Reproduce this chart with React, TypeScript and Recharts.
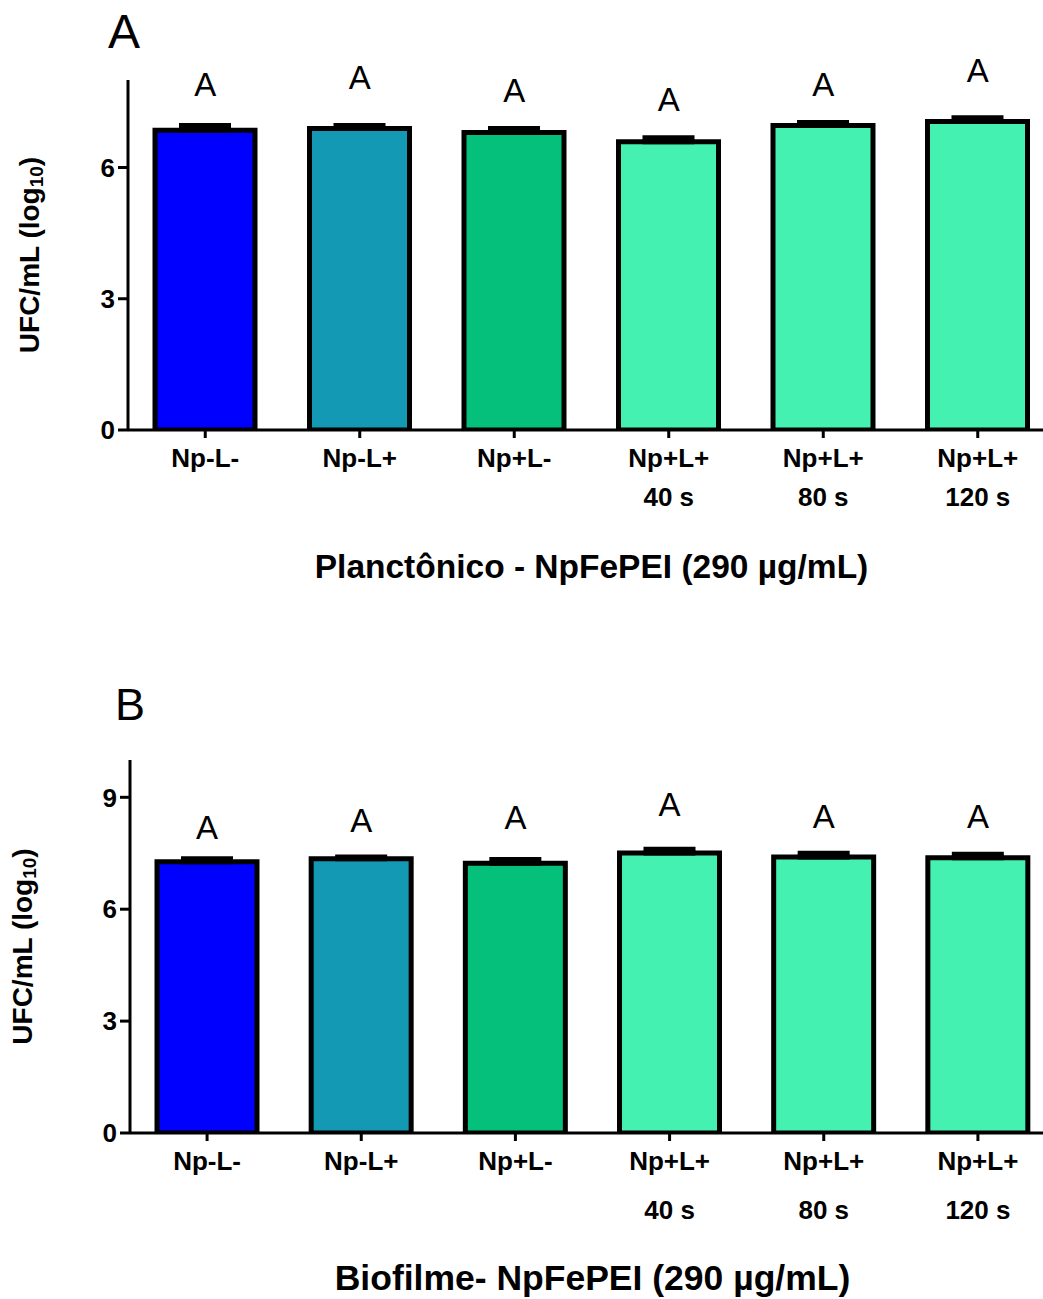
import { BarChart, Bar, Cell, XAxis, YAxis, ErrorBar, ReferenceDot } from 'recharts';

// Treatment groups (two-line tick labels split on "\n")
const categories = ['Np-L-', 'Np-L+', 'Np+L-', 'Np+L+\n40 s', 'Np+L+\n80 s', 'Np+L+\n120 s'];
const barColors = ['#0000ff', '#1399b4', '#05c07a', '#44f1b1', '#44f1b1', '#44f1b1'];

// Planktonic counts, log10 UFC/mL
const planktonicMean = [6.85, 6.89, 6.8, 6.59, 6.96, 7.05];
const planktonicSd = [0.11, 0.07, 0.09, 0.09, 0.07, 0.09];
const planktonicLetters = ['A', 'A', 'A', 'A', 'A', 'A'];
const planktonicLetterAt = [7.64, 7.8, 7.5, 7.3, 7.63, 7.95];
const planktonicTicks = [0, 3, 6];

// Biofilm counts, log10 UFC/mL
const biofilmMean = [7.27, 7.35, 7.23, 7.51, 7.4, 7.38];
const biofilmSd = [0.08, 0.05, 0.1, 0.1, 0.1, 0.09];
const biofilmLetters = ['A', 'A', 'A', 'A', 'A', 'A'];
const biofilmLetterAt = [7.88, 8.07, 8.16, 8.49, 8.17, 8.17];
const biofilmTicks = [0, 3, 6, 9];

const FONT = '"Liberation Sans", Arial, Helvetica, sans-serif';

function buildRows(mean: number[], sd: number[], letters: string[], letterAt: number[]) {
    return categories.map((name, i) => ({
        name,
        value: mean[i],
        err: [0, sd[i]],
        letter: letters[i],
        letterAt: letterAt[i],
    }));
}

function CategoryTick({ x, y, payload, lineGap }: any) {
    const lines = String(payload.value).split('\n');
    return (
        <g transform={`translate(${x},${y})`}>
            {lines.map((line, i) => (
                <text
                    key={i}
                    x={0}
                    y={27 + i * lineGap}
                    textAnchor="middle"
                    fontFamily={FONT}
                    fontWeight="bold"
                    fontSize={26}
                    fill="#000"
                >
                    {line}
                </text>
            ))}
        </g>
    );
}

interface PanelProps {
    rows: ReturnType<typeof buildRows>;
    height: number;
    top: number;
    axisWidth: number;
    yMax: number;
    ticks: number[];
    xAxisHeight: number;
    lineGap: number;
    title: string;
    titleSize: number;
    titleDy: number;
    yTitleX: number;
}

function Panel({
    rows,
    height,
    top,
    axisWidth,
    yMax,
    ticks,
    xAxisHeight,
    lineGap,
    title,
    titleSize,
    titleDy,
    yTitleX,
}: PanelProps) {
    return (
        <BarChart
            width={1060}
            height={height}
            data={rows}
            margin={{ top, right: 5, bottom: 0, left: 0 }}
            barSize={100}
        >
            <XAxis
                dataKey="name"
                height={xAxisHeight}
                interval={0}
                axisLine={{ stroke: '#000', strokeWidth: 3 }}
                tickLine={{ stroke: '#000', strokeWidth: 3 }}
                tickSize={8}
                tick={<CategoryTick lineGap={lineGap} />}
                label={{
                    content: ({ viewBox }: any) => (
                        <text
                            x={viewBox.x + viewBox.width / 2}
                            y={viewBox.y + titleDy}
                            textAnchor="middle"
                            fontFamily={FONT}
                            fontWeight="bold"
                            fontSize={titleSize}
                            fill="#000"
                        >
                            {title}
                        </text>
                    ),
                }}
            />
            <YAxis
                width={axisWidth}
                domain={[0, yMax]}
                ticks={ticks}
                allowDataOverflow
                axisLine={{ stroke: '#000', strokeWidth: 3 }}
                tickLine={{ stroke: '#000', strokeWidth: 3 }}
                tickSize={10}
                tickMargin={3}
                tick={{ fontFamily: FONT, fontWeight: 'bold', fontSize: 26, fill: '#000' }}
                label={{
                    content: ({ viewBox }: any) => {
                        const cy = viewBox.y + viewBox.height / 2;
                        return (
                            <text
                                x={yTitleX}
                                y={cy}
                                transform={`rotate(-90, ${yTitleX}, ${cy})`}
                                textAnchor="middle"
                                dominantBaseline="central"
                                fontFamily={FONT}
                                fontWeight="bold"
                                fontSize={28}
                                fill="#000"
                            >
                                UFC/mL (log
                                <tspan fontSize={19} dy={7}>10</tspan>
                                <tspan dy={-7}>)</tspan>
                            </text>
                        );
                    },
                }}
            />
            <Bar dataKey="value" stroke="#000" strokeWidth={5} isAnimationActive={false}>
                {rows.map((r, i) => (
                    <Cell key={r.name} fill={barColors[i]} />
                ))}
                {/* one-sided SD: cap half-width is 26px */}
                <ErrorBar dataKey="err" direction="y" width={26} stroke="#000" strokeWidth={5} />
            </Bar>
            {rows.map((r) => (
                <ReferenceDot
                    key={r.name}
                    x={r.name}
                    y={r.letterAt}
                    r={0}
                    shape={(p: any) => (
                        <text
                            x={p.cx}
                            y={p.cy}
                            textAnchor="middle"
                            fontFamily={FONT}
                            fontSize={33}
                            fill="#000"
                        >
                            {r.letter}
                        </text>
                    )}
                />
            ))}
        </BarChart>
    );
}

export default function App() {
    const planktonic = buildRows(planktonicMean, planktonicSd, planktonicLetters, planktonicLetterAt);
    const biofilm = buildRows(biofilmMean, biofilmSd, biofilmLetters, biofilmLetterAt);

    return (
        <div
            style={{
                position: 'absolute',
                left: 0,
                top: 0,
                width: 1043,
                height: 1299,
                overflow: 'hidden',
                background: '#fff',
            }}
        >
            <div style={{ position: 'absolute', left: 0, top: 0 }}>
                <Panel
                    rows={planktonic}
                    height={600}
                    top={80}
                    axisWidth={128}
                    yMax={8}
                    ticks={planktonicTicks}
                    xAxisHeight={170}
                    lineGap={39}
                    title="Planctônico - NpFePEI (290 µg/mL)"
                    titleSize={33.5}
                    titleDy={148}
                    yTitleX={29}
                />
            </div>
            <div style={{ position: 'absolute', left: 0, top: 600 }}>
                <Panel
                    rows={biofilm}
                    height={699}
                    top={160}
                    axisWidth={130}
                    yMax={10}
                    ticks={biofilmTicks}
                    xAxisHeight={166}
                    lineGap={49}
                    title="Biofilme- NpFePEI (290 µg/mL)"
                    titleSize={35.5}
                    titleDy={157}
                    yTitleX={22}
                />
            </div>
            <svg
                width={1043}
                height={1299}
                style={{ position: 'absolute', left: 0, top: 0, pointerEvents: 'none' }}
            >
                <text x={108} y={48} fontFamily={FONT} fontSize={48} fill="#000">
                    A
                </text>
                <text x={115} y={720} fontFamily={FONT} fontSize={45} fill="#000">
                    B
                </text>
            </svg>
        </div>
    );
}
